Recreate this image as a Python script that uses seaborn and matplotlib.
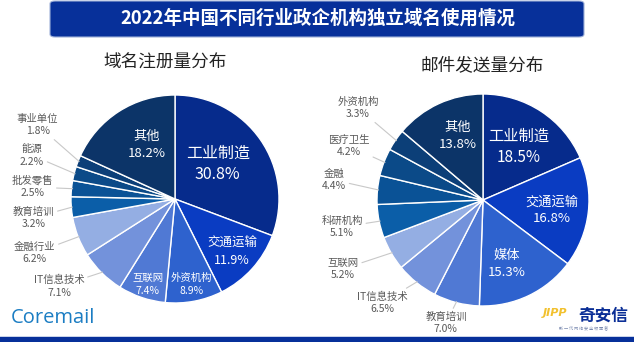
import matplotlib
matplotlib.use("Agg")
import matplotlib.pyplot as plt
import seaborn as sns
import numpy as np
from matplotlib.patches import FancyBboxPatch, Rectangle

sns.set_theme(style="white")
plt.rcParams['font.family'] = ['Noto Sans CJK SC', 'DejaVu Sans']

# ---------------- data ----------------
title = "2022年中国不同行业政企机构独立域名使用情况"
left_title = "域名注册量分布"
right_title = "邮件发送量分布"

left_categories = ["工业制造", "交通运输", "外资机构", "互联网", "IT信息技术", "金融行业",
                   "教育培训", "批发零售", "能源", "事业单位", "其他"]
left_values = [30.8, 11.9, 8.9, 7.4, 7.1, 6.2, 3.2, 2.5, 2.2, 1.8, 18.2]

right_categories = ["工业制造", "交通运输", "媒体", "教育培训", "IT信息技术", "互联网",
                    "科研机构", "金融", "医疗卫生", "外资机构", "其他"]
right_values = [18.5, 16.8, 15.3, 7.0, 6.5, 5.2, 5.1, 4.4, 4.2, 3.3, 13.8]

slice_colors = ["#062B8C", "#0A3CC2", "#2E62CE", "#5079D4", "#7392DB", "#94AEE3",
                "#0B5EA8", "#0A5296", "#0B4A88", "#0C3F78", "#0C3468"]

# ---------------- layout (label placements, in pie-radius units) ----------------
# name: (x, y, fontsize, inside)
left_layout = {
    "工业制造": (0.41, 0.34, 11.5, True),
    "交通运输": (0.55, -0.51, 9.0, True),
    "外资机构": (0.16, -0.82, 7.5, True),
    "互联网": (-0.26, -0.82, 7.5, True),
    "IT信息技术": (-1.115, -0.84, 7.5, False),
    "金融行业": (-1.35, -0.52, 7.5, False),
    "教育培训": (-1.36, -0.18, 7.5, False),
    "批发零售": (-1.37, 0.115, 7.5, False),
    "能源": (-1.375, 0.42, 7.5, False),
    "事业单位": (-1.32, 0.71, 7.5, False),
    "其他": (-0.27, 0.52, 9.5, True),
}
right_layout = {
    "工业制造": (0.34, 0.50, 11.0, True),
    "交通运输": (0.65, -0.094, 9.5, True),
    "媒体": (0.226, -0.604, 9.5, True),
    "教育培训": (-0.35, -1.16, 7.5, False),
    "IT信息技术": (-0.953, -0.97, 7.5, False),
    "互联网": (-1.32, -0.65, 7.5, False),
    "科研机构": (-1.33, -0.255, 7.5, False),
    "金融": (-1.406, 0.189, 7.5, False),
    "医疗卫生": (-1.264, 0.509, 7.5, False),
    "外资机构": (-1.18, 0.868, 7.5, False),
    "其他": (-0.236, 0.604, 9.5, True),
}

W, H = 634, 347
fig = plt.figure(figsize=(W / 100, H / 100), dpi=100)
fig.patch.set_facecolor("white")

# title banner
banner = FancyBboxPatch((50 / W, 1 - 37 / H), 534 / W, 36 / H,
                        boxstyle="round,pad=0,rounding_size=0.008",
                        transform=fig.transFigure, facecolor="#07309A",
                        edgecolor="#9EB0D8", linewidth=0.8)
fig.patches.append(banner)
fig.text(318 / W, 1 - 18 / H, title, color="white", fontsize=13.3,
         fontweight="bold", ha="center", va="center")

# bottom band
fig.patches.append(Rectangle((0, 5 / H), 1, 5 / H, transform=fig.transFigure,
                             facecolor="#07309A", edgecolor="none"))
fig.patches.append(Rectangle((0, 10 / H), 1, 1.2 / H, transform=fig.transFigure,
                             facecolor="#C9D3EA", edgecolor="none"))

# subtitles
fig.text(165 / W, 1 - 63 / H, left_title, fontsize=12.7, color="#222222",
         ha="center", va="center")
fig.text(482 / W, 1 - 65 / H, right_title, fontsize=12.7, color="#222222",
         ha="center", va="center")


def draw_pie(cx, cy, r, cats, vals, layout):
    ax = fig.add_axes([(cx - r) / W, (H - cy - r) / H, 2 * r / W, 2 * r / H])
    pal = sns.color_palette(slice_colors, n_colors=len(vals))
    wedges, _ = ax.pie(vals, colors=pal, startangle=90, counterclock=False,
                       radius=1.0,
                       wedgeprops=dict(edgecolor="white", linewidth=1.0))
    ax.set_xlim(-1, 1)
    ax.set_ylim(-1, 1)
    ax.set_aspect("equal")
    ax.axis("off")
    for w, cat, v in zip(wedges, cats, vals):
        x, y, fs, inside = layout[cat]
        label = f"{cat}\n{v:.1f}%"
        if inside:
            ax.text(x, y, label, color="white", fontsize=fs, ha="center",
                    va="center", linespacing=1.35, clip_on=False)
        else:
            ang = np.deg2rad((w.theta1 + w.theta2) / 2)
            px, py = np.cos(ang), np.sin(ang)
            ax.annotate(label, xy=(px * 0.99, py * 0.99), xytext=(x, y),
                        color="#595959", fontsize=fs, ha="center", va="center",
                        linespacing=1.3, annotation_clip=False,
                        arrowprops=dict(arrowstyle="-", color="#C8C8C8",
                                        lw=0.8, shrinkA=0, shrinkB=0))
    return ax


draw_pie(175, 199, 104, left_categories, left_values, left_layout)
draw_pie(483, 200, 106, right_categories, right_values, right_layout)

# logos
fig.text(11 / W, 1 - 318 / H, "Coremail", color="#1B7DC3", fontsize=14.5,
         family=["Open Sans", "DejaVu Sans"], ha="left", va="center")
fig.text(555 / W, 1 - 313 / H, "JIPP", color="#F2C12E", fontsize=8,
         fontweight="bold", style="italic", family=["DejaVu Sans"],
         ha="center", va="center")
fig.text(603 / W, 1 - 316 / H, "奇安信", color="#0A2E96", fontsize=12,
         fontweight="bold", ha="center", va="center")
fig.text(584 / W, 1 - 328 / H, "新 一 代 网 络 安 全 领 军 者", color="#7A8AB0",
         fontsize=3, ha="center", va="center")

fig.savefig("out.png", dpi=100, facecolor="white")
